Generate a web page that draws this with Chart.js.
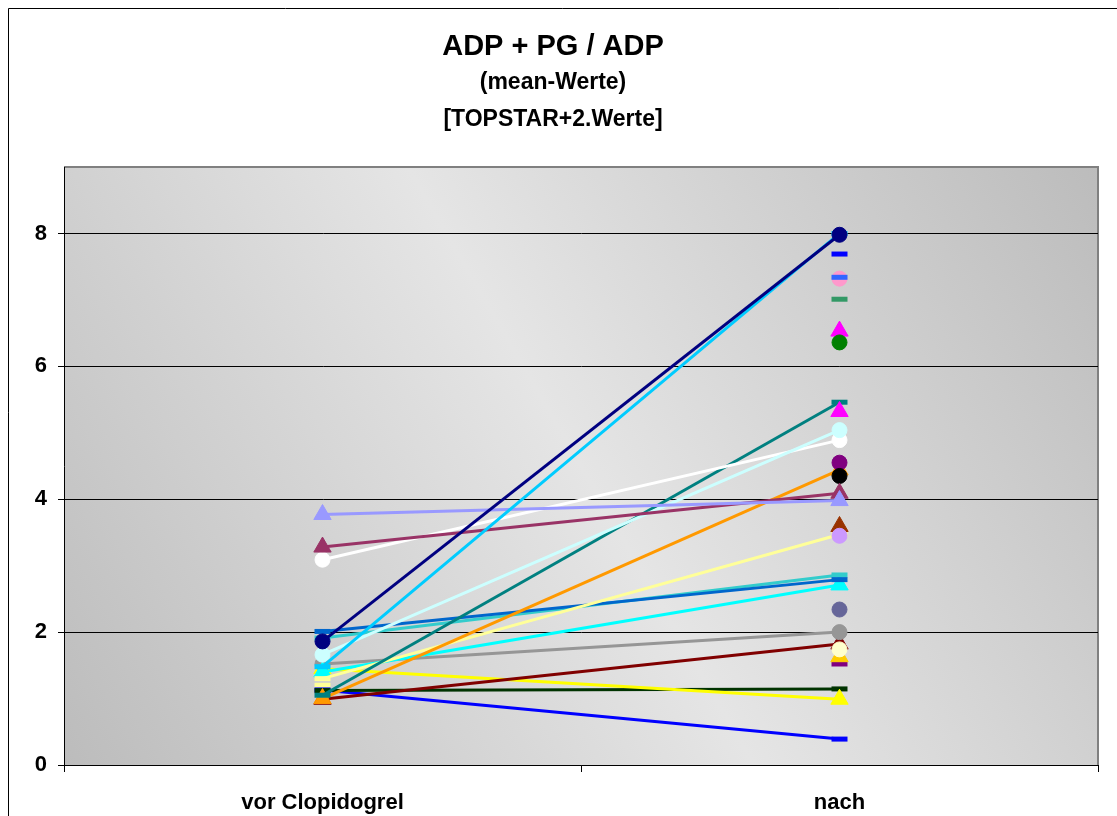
<!DOCTYPE html>
<html>
<head>
<meta charset="utf-8">
<title>ADP + PG / ADP</title>
<script src="https://cdn.jsdelivr.net/npm/chart.js@4.4.1/dist/chart.umd.min.js"></script>
<style>
  html, body { margin: 0; padding: 0; background: #fff; }
  canvas { display: block; }
</style>
</head>
<body>
<canvas id="adpChart" width="1117" height="816"></canvas>
<script>
const categories = ['vor Clopidogrel', 'nach'];
const yTicks = [0, 2, 4, 6, 8];

// one entry per patient; null = no measurement at that time point
const vorValues  = [1.86, 1.48, 3.77, 3.28, 1.66, 3.09, null, null, null, null, null, null, null, 1.05, null, null, 1.00, null, null, 1.30, 2.01, 1.91, 1.40, null, 1.52, null, null, 0.99, null, 1.45, 1.12, 1.13, 1.20];
const nachValues = [7.98, 8.00, 3.98, 4.09, 5.04, 4.89, 6.36, 6.53, 7.34, 7.32, 7.69, 7.01, 5.32, 5.46, 4.35, 4.55, 4.44, 3.45, 3.59, 3.47, 2.79, 2.86, 2.71, 2.34, 2.00, 1.74, 1.63, 1.82, 1.52, 0.99, 1.145, 0.39, null];
const seriesColors = ['#000080', '#00CCFF', '#9999FF', '#993366', '#CCFFFF', '#FFFFFF', '#008000', '#FF00FF', '#3366FF', '#FF99CC', '#0000FF', '#339966', '#FF00FF', '#008080', '#000000', '#800080', '#FF9900', '#CC99FF', '#993300', '#FFFF99', '#0066CC', '#33CCCC', '#00FFFF', '#666699', '#969696', '#FFFFCC', '#FFCC00', '#800000', '#800080', '#FFFF00', '#003300', '#0000FF', '#FFFF99'];
const seriesMarkers = ['circle', 'line', 'triangle', 'triangle', 'circle', 'circle', 'circle', 'triangle', 'line', 'circle', 'line', 'line', 'triangle', 'line', 'circle', 'circle', 'triangle', 'circle', 'triangle', 'line', 'line', 'line', 'triangle', 'circle', 'circle', 'circle', 'triangle', 'triangle', 'line', 'triangle', 'line', 'line', 'line'];

const FONT = 'Arial, "Liberation Sans", sans-serif';

function markerRadius(style) {
    if (style === 'triangle') return 10;
    if (style === 'line') return 8;
    return 7.5;
}

const datasets = vorValues.map((v, i) => ({
    label: 'Patient ' + (i + 1),
    data: [v, nachValues[i]],
    borderColor: seriesColors[i],
    backgroundColor: seriesColors[i],
    borderWidth: 3,
    pointStyle: seriesMarkers[i],
    pointRadius: markerRadius(seriesMarkers[i]),
    pointBorderWidth: seriesMarkers[i] === 'line' ? 5 : 1,
    pointBorderColor: seriesColors[i],
    pointBackgroundColor: seriesColors[i],
    tension: 0
}));

// grey diagonal gradient behind the plot + frame around the whole chart
const frame = {
    id: 'frame',
    beforeDraw(chart) {
        const { ctx, chartArea: a, width, height } = chart;
        ctx.save();
        ctx.fillStyle = '#fff';
        ctx.fillRect(0, 0, width, height);

        const g = ctx.createLinearGradient(a.right, a.top, a.left, a.bottom);
        g.addColorStop(0, '#bcbcbc');
        g.addColorStop(0.5, '#e5e5e5');
        g.addColorStop(1, '#bcbcbc');
        ctx.fillStyle = g;
        ctx.fillRect(a.left, a.top, a.right - a.left, a.bottom - a.top);

        ctx.strokeStyle = '#808080';
        ctx.lineWidth = 2;
        ctx.beginPath();
        ctx.moveTo(a.left, a.top);
        ctx.lineTo(a.right, a.top);
        ctx.lineTo(a.right, a.bottom);
        ctx.stroke();

        ctx.strokeStyle = '#000';
        ctx.lineWidth = 1;
        ctx.beginPath();
        ctx.moveTo(8.5, height);
        ctx.lineTo(8.5, 8.5);
        ctx.lineTo(width, 8.5);
        ctx.stroke();
        ctx.restore();
    }
};

new Chart(document.getElementById('adpChart'), {
    type: 'line',
    data: { labels: categories, datasets: datasets },
    options: {
        responsive: false,
        animation: false,
        layout: { padding: { top: 0, left: 8, right: 19, bottom: 2 } },
        plugins: {
            legend: { display: false },
            tooltip: { enabled: false },
            title: {
                display: true,
                text: 'ADP + PG / ADP',
                color: '#000',
                font: { family: FONT, size: 29, weight: 'bold', lineHeight: 1 },
                padding: { top: 32, bottom: 0 }
            },
            subtitle: {
                display: true,
                text: ['(mean-Werte)', '[TOPSTAR+2.Werte]'],
                color: '#000',
                font: { family: FONT, size: 23, weight: 'bold', lineHeight: 1.6 },
                padding: { top: 3, bottom: 29.4 }
            }
        },
        scales: {
            x: {
                offset: true,
                grid: { offset: true, drawOnChartArea: false, color: '#000', tickLength: 7 },
                border: { color: '#000', width: 1 },
                ticks: { color: '#000', padding: 18, font: { family: FONT, size: 22, weight: 'bold' } },
                afterFit(s) { s.height = 49; }
            },
            y: {
                min: 0,
                max: 9,
                afterBuildTicks(s) { s.ticks = yTicks.map(v => ({ value: v })); },
                grid: { color: '#000', lineWidth: 1, tickLength: 6 },
                border: { color: '#000', width: 1 },
                ticks: { color: '#000', padding: 11, font: { family: FONT, size: 22, weight: 'bold' } },
                afterFit(s) { s.width = 56; }
            }
        }
    },
    plugins: [frame]
});
</script>
</body>
</html>
